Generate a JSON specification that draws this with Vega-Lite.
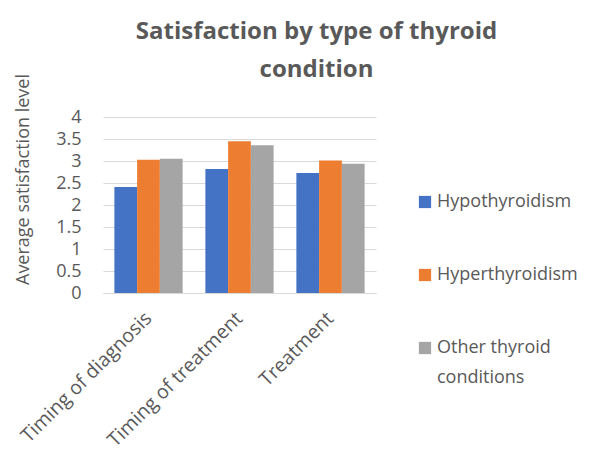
{
  "$schema": "https://vega.github.io/schema/vega-lite/v6.json",
  "width": 273,
  "height": 176,
  "autosize": {"type": "none"},
  "padding": {"left": 103, "top": 117, "right": 226, "bottom": 164},
  "background": "white",
  "title": {
    "text": ["Satisfaction by type of thyroid", "condition"],
    "font": "Open Sans",
    "fontSize": 24,
    "fontWeight": "bold",
    "color": "#595959",
    "anchor": "middle",
    "frame": "group",
    "dx": 77,
    "offset": -8,
    "lineHeight": 38
  },
  "data": {
    "values": [
      {"aspect": "Timing of diagnosis", "condition": "Hypothyroidism", "value": 2.41},
      {"aspect": "Timing of diagnosis", "condition": "Hyperthyroidism", "value": 3.03},
      {"aspect": "Timing of diagnosis", "condition": "Other thyroid conditions", "value": 3.05},
      {"aspect": "Timing of treatment", "condition": "Hypothyroidism", "value": 2.82},
      {"aspect": "Timing of treatment", "condition": "Hyperthyroidism", "value": 3.45},
      {"aspect": "Timing of treatment", "condition": "Other thyroid conditions", "value": 3.36},
      {"aspect": "Treatment", "condition": "Hypothyroidism", "value": 2.73},
      {"aspect": "Treatment", "condition": "Hyperthyroidism", "value": 3.01},
      {"aspect": "Treatment", "condition": "Other thyroid conditions", "value": 2.94}
    ]
  },
  "mark": {"type": "bar"},
  "encoding": {
    "x": {
      "field": "aspect",
      "type": "nominal",
      "sort": null,
      "scale": {"paddingInner": 0.25, "paddingOuter": 0.125},
      "axis": {
        "title": null,
        "labelAngle": -45,
        "labelAlign": "right",
        "labelBaseline": "middle",
        "labelFont": "Open Sans",
        "labelFontSize": 19.5,
        "labelColor": "#595959",
        "labelPadding": 22,
        "ticks": false,
        "domainColor": "#d9d9d9",
        "domainWidth": 1,
        "labelLimit": 300
      }
    },
    "xOffset": {
      "field": "condition",
      "type": "nominal",
      "sort": ["Hypothyroidism", "Hyperthyroidism", "Other thyroid conditions"]
    },
    "y": {
      "field": "value",
      "type": "quantitative",
      "scale": {"domain": [0, 4]},
      "axis": {
        "title": "Average satisfaction level",
        "titleFont": "Open Sans",
        "titleFontSize": 18,
        "titleFontWeight": "normal",
        "titleColor": "#595959",
        "titleAngle": -90,
        "titleX": -80,
        "titleY": 62,
        "titleAlign": "center",
        "titleBaseline": "middle",
        "values": [0, 0.5, 1, 1.5, 2, 2.5, 3, 3.5, 4],
        "format": ".1~f",
        "labelFont": "Open Sans",
        "labelFontSize": 18,
        "labelColor": "#595959",
        "labelPadding": 22,
        "ticks": false,
        "domain": false,
        "gridColor": "#d9d9d9",
        "gridWidth": 1
      }
    },
    "color": {
      "field": "condition",
      "type": "nominal",
      "sort": ["Hypothyroidism", "Hyperthyroidism", "Other thyroid conditions"],
      "scale": {"range": ["#4472C4", "#ED7D31", "#A5A5A5"]},
      "legend": {
        "title": null,
        "orient": "none",
        "legendX": 313,
        "legendY": 76,
        "symbolType": "square",
        "symbolSize": 150,
        "symbolStrokeWidth": 0,
        "labelFont": "Open Sans",
        "labelFontSize": 18,
        "labelColor": "#595959",
        "labelOffset": 3,
        "rowPadding": 55,
        "labelLimit": 200,
        "labelExpr": "datum.label == 'Other thyroid conditions' ? ['Other thyroid', 'conditions'] : datum.label"
      }
    }
  },
  "config": {
    "view": {"stroke": null},
    "style": {"guide-label": {"lineHeight": 30}}
  }
}
